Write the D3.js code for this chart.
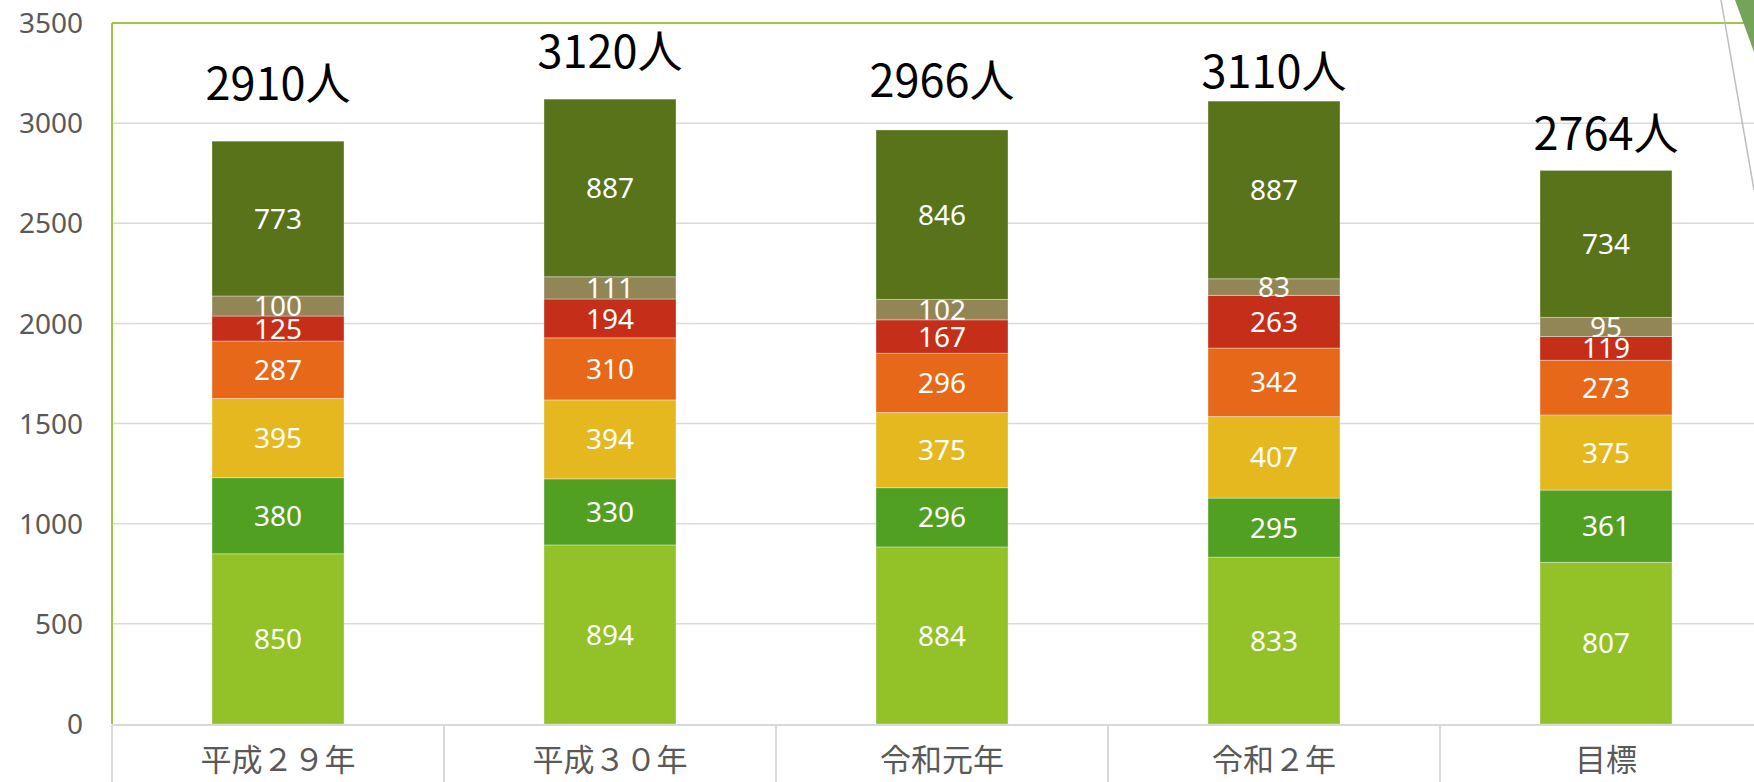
<!DOCTYPE html>
<html><head><meta charset="utf-8">
<script src="https://cdn.jsdelivr.net/npm/d3@7"></script>
<style>
html,body{margin:0;padding:0;background:#fff;overflow:hidden;}
svg{display:block;}
</style></head>
<body>
<svg id="chart" width="1754" height="782"></svg>
<script>
// ---- data ----
const categories = ["平成２９年", "平成３０年", "令和元年", "令和２年", "目標"];
const seriesNames = ["s1", "s2", "s3", "s4", "s5", "s6", "s7"];
const s1 = [850, 894, 884, 833, 807];
const s2 = [380, 330, 296, 295, 361];
const s3 = [395, 394, 375, 407, 375];
const s4 = [287, 310, 296, 342, 273];
const s5 = [125, 194, 167, 263, 119];
const s6 = [100, 111, 102, 83, 95];
const s7 = [773, 887, 846, 887, 734];
const totalLabels = ["2910人", "3120人", "2966人", "3110人", "2764人"];
const yTicks = [0, 500, 1000, 1500, 2000, 2500, 3000, 3500];

// ---- layout / style ----
const colors = ["#92c128", "#52a022", "#e6b820", "#e8681a", "#c52f1a", "#928657", "#587319"];
const totalLift = [41, 31, 33, 13, 20]; // manual placement of total labels above bars (px)
const W = 1754, H = 782;
const plot = {left: 112, right: 1772, top: 23, bottom: 724};
const barWidth = 132;

const svg = d3.select("#chart");
const seriesVals = [s1, s2, s3, s4, s5, s6, s7];
const rows = categories.map((c, i) => {
  const r = {cat: c};
  seriesNames.forEach((n, k) => r[n] = seriesVals[k][i]);
  return r;
});
const stacked = d3.stack().keys(seriesNames)(rows);

const x = d3.scaleBand().domain(categories).range([plot.left, plot.right]).padding(0);
const y = d3.scaleLinear().domain([0, 3500]).range([plot.bottom, plot.top]);

// gridlines
svg.append("g").selectAll("line").data(yTicks.filter(t => t > 0 && t < 3500)).join("line")
  .attr("x1", plot.left).attr("x2", W)
  .attr("y1", d => y(d)).attr("y2", d => y(d))
  .attr("stroke", "#d9d9d9").attr("stroke-width", 1.5);

// y tick labels
svg.append("g").selectAll("text").data(yTicks).join("text")
  .attr("x", 83).attr("y", d => y(d)).attr("dy", "0.36em")
  .attr("text-anchor", "end")
  .attr("font-family", "'Noto Sans', 'Open Sans', sans-serif")
  .attr("font-size", 28).attr("fill", "#595959")
  .text(d => d);

// bars
const bx = d => x(d.data.cat) + (x.bandwidth() - barWidth) / 2;
const layers = svg.append("g").selectAll("g").data(stacked).join("g")
  .attr("fill", (d, i) => colors[i]);
layers.selectAll("rect").data(d => d).join("rect")
  .attr("x", bx).attr("width", barWidth)
  .attr("y", d => y(d[1])).attr("height", d => y(d[0]) - y(d[1]))
  .attr("stroke", "rgba(255,255,255,0.35)").attr("stroke-width", 1);

// value labels
const lblG = svg.append("g");
stacked.forEach((layer) => {
  lblG.selectAll(null).data(layer).join("text")
    .attr("x", d => x(d.data.cat) + x.bandwidth() / 2)
    .attr("y", d => (y(d[0]) + y(d[1])) / 2)
    .attr("dy", "0.36em")
    .attr("text-anchor", "middle")
    .attr("font-family", "'Noto Sans', 'Open Sans', sans-serif")
    .attr("font-size", 28).attr("fill", "#ffffff")
    .text(d => d[1] - d[0]);
});

// total labels
const totals = rows.map(r => seriesNames.reduce((a, n) => a + r[n], 0));
svg.append("g").selectAll("text").data(categories).join("text")
  .attr("x", c => x(c) + x.bandwidth() / 2)
  .attr("y", (c, i) => y(totals[i]) - totalLift[i])
  .attr("text-anchor", "middle")
  .attr("font-family", "'Noto Sans CJK JP', 'Noto Sans', sans-serif")
  .attr("font-size", 45).attr("fill", "#000000")
  .text((c, i) => totalLabels[i]);

// plot frame: top and left green lines
svg.append("line").attr("x1", plot.left).attr("x2", W).attr("y1", plot.top).attr("y2", plot.top)
  .attr("stroke", "#9bc83c").attr("stroke-width", 2);
svg.append("line").attr("x1", plot.left).attr("x2", plot.left).attr("y1", plot.top).attr("y2", plot.bottom)
  .attr("stroke", "#9bc83c").attr("stroke-width", 2);

// x axis baseline and category separators
svg.append("line").attr("x1", plot.left).attr("x2", W).attr("y1", y(0) + 1).attr("y2", y(0) + 1)
  .attr("stroke", "#d9d9d9").attr("stroke-width", 2);
const seps = categories.map(c => x(c)).concat([x(categories[categories.length - 1]) + x.bandwidth()]);
svg.append("g").selectAll("line").data(seps).join("line")
  .attr("x1", d => d).attr("x2", d => d)
  .attr("y1", y(0) + 1).attr("y2", H)
  .attr("stroke", "#d9d9d9").attr("stroke-width", 2);

// category labels
svg.append("g").selectAll("text").data(categories).join("text")
  .attr("x", c => x(c) + x.bandwidth() / 2)
  .attr("y", 771)
  .attr("text-anchor", "middle")
  .attr("font-family", "'Noto Sans CJK JP', sans-serif")
  .attr("font-size", 31).attr("fill", "#595959")
  .text(c => c);

// top-right decoration
svg.append("line").attr("x1", 1721).attr("y1", 0).attr("x2", 1754).attr("y2", 190)
  .attr("stroke", "#bfbfbf").attr("stroke-width", 1.5);
svg.append("path").attr("d", "M1735,0 L1754,0 L1754,52 Z").attr("fill", "#76a35a");
</script>
</body></html>
